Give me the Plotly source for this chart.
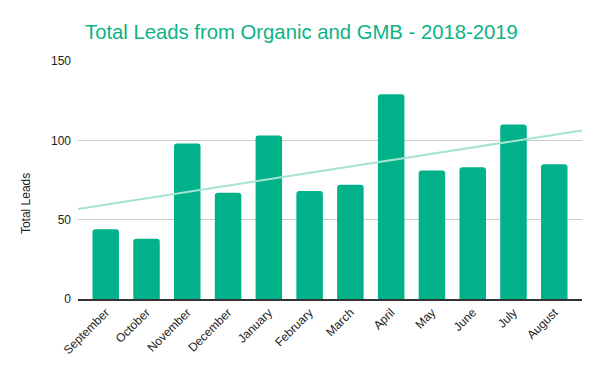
import numpy as np
import plotly.graph_objects as go

months = ["September", "October", "November", "December", "January", "February",
          "March", "April", "May", "June", "July", "August"]
leads = [44, 38, 98, 67, 103, 68, 72, 129, 81, 83, 110, 85]
y_ticks = [0, 50, 100, 150]

PAD = 0.68  # extra axis room beyond first/last category (style)
x_idx = np.arange(len(months))
slope, intercept = np.polyfit(x_idx, leads, 1)
trend_x = np.array([-PAD, len(months) - 1 + PAD])
trend_y = slope * trend_x + intercept

FONT = "Liberation Sans, Arial, sans-serif"

fig = go.Figure()
fig.add_trace(go.Bar(
    x=x_idx, y=leads,
    marker=dict(color="#00b189", cornerradius=3, line=dict(width=0)),
    width=0.65, showlegend=False, hoverinfo="x+y",
))
fig.add_trace(go.Scatter(
    x=trend_x, y=trend_y, mode="lines",
    line=dict(color="#a6e3d1", width=2), showlegend=False,
))

fig.update_layout(
    width=600, height=371,
    margin=dict(l=78, r=18, t=61, b=72),
    paper_bgcolor="white", plot_bgcolor="white",
    font=dict(family=FONT, size=12, color="#222222"),
    title=dict(text="Total Leads from Organic and GMB - 2018-2019",
               font=dict(family=FONT, size=20.3, color="#0bb386"),
               xref="container", x=85/600, xanchor="left",
               yref="container", y=1-32/371, yanchor="middle"),
    xaxis=dict(
        range=[-PAD, len(months) - 1 + PAD], automargin=False,
        tickmode="array", tickvals=list(x_idx), ticktext=months,
        tickangle=-45, showgrid=False, zeroline=False,
        showline=True, linecolor="#333333", linewidth=1.5,
        ticks="", tickfont=dict(size=12, color="#222222"),
    ),
    yaxis=dict(
        range=[0, 150], tickvals=y_ticks, automargin=False,
        showgrid=True, gridcolor="#cccccc", gridwidth=1,
        zeroline=False, showline=False, ticks="",
        ticklabelstandoff=6,
        tickfont=dict(size=12, color="#222222"),
    ),
    annotations=[dict(
        text="Total Leads", xref="paper", yref="paper",
        x=-0.1026, y=0.40, xanchor="center", yanchor="middle",
        textangle=-90, showarrow=False,
        font=dict(family=FONT, size=12, color="#222222"),
    )],
)

fig.write_html("out.html", config={"displayModeBar": False},
               post_script="document.body.style.margin='0';")
